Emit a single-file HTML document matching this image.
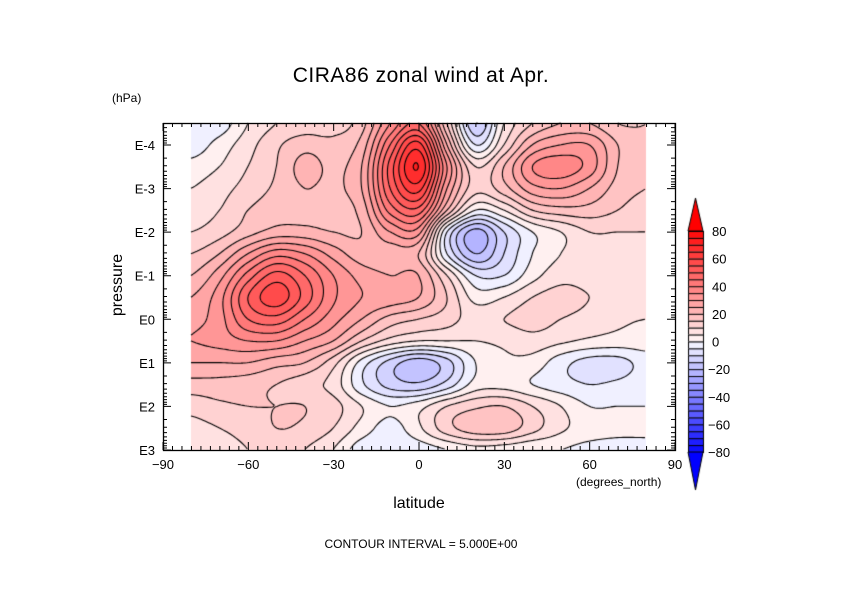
<!DOCTYPE html>
<html><head><meta charset="utf-8"><style>
body{margin:0;background:#fff;}
#wrap{position:relative;width:842px;height:595px;overflow:hidden;background:#fff;font-family:"Liberation Sans",sans-serif;color:#000;}
.t{position:absolute;white-space:nowrap;}
canvas,svg{position:absolute;left:0;top:0;}
</style></head><body>
<div id="wrap">
<canvas id="cv" width="842" height="595"></canvas>
<svg id="ax" width="842" height="595"></svg>
<div class="t" style="left:0;width:842px;text-align:center;top:64px;font-size:21px;letter-spacing:0.5px">CIRA86 zonal wind at Apr.</div>
<div class="t" style="left:112px;top:91px;font-size:12px">(hPa)</div>
<div class="t" style="left:83px;top:276px;font-size:16px;transform:rotate(-90deg);transform-origin:center;width:70px;text-align:center">pressure</div>
<div class="t" style="left:369px;top:495px;width:100px;text-align:center;font-size:16px">latitude</div>
<div class="t" style="left:576px;top:475px;font-size:12px">(degrees_north)</div>
<div class="t" style="left:0;width:842px;text-align:center;top:537px;font-size:12px">CONTOUR INTERVAL = 5.000E+00</div>
</div>
<script>
const lats=[-80,-70,-60,-50,-40,-30,-20,-10,0,10,20,30,40,50,60,70,80];
const logP=[-4.5,-4,-3.5,-3,-2.5,-2,-1.5,-1,-0.5,0,0.5,1,1.5,2,2.5,3];
const wind=[
[-3,-3,5,10,12,12,18,35,45,15,-15,5,15,20,20,15,15],
[-3,2,8,14,18,17,22,45,62,25,-5,10,25,30,30,20,15],
[2,5,10,15,22,19,25,52,70,35,10,20,35,38,33,20,15],
[5,8,12,16,20,19,25,50,62,30,12,18,28,30,25,18,15],
[7,10,15,18,18,18,22,42,48,20,0,5,15,18,18,15,12],
[10,13,18,22,22,20,20,30,32,-5,-22,-10,0,5,10,10,10],
[15,20,30,38,35,28,22,22,20,-5,-20,-10,0,5,8,8,8],
[20,28,42,52,45,35,28,25,25,10,-5,-5,3,8,8,8,8],
[25,33,50,58,48,36,30,28,25,15,3,5,10,12,10,8,8],
[28,33,45,48,40,32,25,18,15,12,8,10,12,10,8,6,5],
[30,32,35,35,30,25,15,8,5,5,5,6,8,6,4,3,3],
[25,25,25,22,20,12,-2,-12,-18,-12,0,4,3,-3,-7,-7,-3],
[18,18,17,15,12,8,-4,-12,-14,-8,2,3,0,-3,-5,-4,-2],
[12,14,15,15,15,12,5,0,3,10,14,15,10,5,0,0,0],
[8,10,12,15,14,10,3,-2,4,13,18,18,12,6,3,2,2],
[5,8,10,12,10,5,-3,-5,-3,0,3,2,0,0,-2,-3,-3]];
const xTicks=[-90,-60,-30,0,30,60,90];
const yTicks=[-4,-3,-2,-1,0,1,2,3];
const cbTicks=[80,60,40,20,0,-20,-40,-60,-80];

const X0=163,X1=675,Y0=123,Y1=450;
const xs=lat=>X0+(lat+90)/180*(X1-X0);
const ys=lp=>145+(lp+4)*43.57;
function col(v){
  let b=Math.floor(v/5)*5; if(b>=80)b=80; if(b<-85)b=-85;
  if(v>=0){const g=Math.round(255*(1-(b+5)/85));return [255,Math.max(0,g),Math.max(0,g)];}
  const g=Math.round(255*(1-(-b)/85));return [Math.max(0,g),Math.max(0,g),255];
}
function cr(p0,p1,p2,p3,t){return 0.5*((2*p1)+(-p0+p2)*t+(2*p0-5*p1+4*p2-p3)*t*t+(-p0+3*p1-3*p2+p3)*t*t*t);}
const R=wind.length,C=lats.length;
function g(i,j){i=Math.max(0,Math.min(R-1,i));j=Math.max(0,Math.min(C-1,j));return wind[i][j];}
function val(fi,fj){
  const i=Math.floor(fi),j=Math.floor(fj),ti=fi-i,tj=fj-j;const r=[];
  for(let k=-1;k<=2;k++)r.push(cr(g(i+k,j-1),g(i+k,j),g(i+k,j+1),g(i+k,j+2),tj));
  return cr(r[0],r[1],r[2],r[3],ti);
}
const cv=document.getElementById('cv'),ctx=cv.getContext('2d');
const dx0=xs(lats[0]),dx1=xs(lats[C-1]),dy0=ys(logP[0]),dy1=ys(logP[R-1]);
const W=Math.round(dx1-dx0),H=Math.round(dy1-dy0);
const S=2,gw=Math.floor(W/S)+1,gh=Math.floor(H/S)+1,F=[];
for(let a=0;a<gh;a++){F.push([]);for(let b=0;b<gw;b++){const fi=Math.min(R-1,a*S/(dy1-dy0)*(R-1)),fj=Math.min(C-1,b*S/(dx1-dx0)*(C-1));F[a].push(val(fi,fj));}}
const img=ctx.createImageData(W,H);
for(let y=0;y<H;y++)for(let x=0;x<W;x++){
  const fi=y/(dy1-dy0)*(R-1),fj=x/(dx1-dx0)*(C-1);const c=col(val(fi,fj));const k=(y*W+x)*4;
  img.data[k]=c[0];img.data[k+1]=c[1];img.data[k+2]=c[2];img.data[k+3]=255;}
ctx.putImageData(img,Math.round(dx0),Math.round(dy0));
ctx.strokeStyle='#000';ctx.lineWidth=1.1;ctx.beginPath();
const ox=Math.round(dx0),oy=Math.round(dy0);
for(let lev=-40;lev<=80;lev+=5){
  for(let a=0;a<gh-1;a++)for(let b=0;b<gw-1;b++){
    const v=[F[a][b],F[a][b+1],F[a+1][b+1],F[a+1][b]];
    const P=[[b,a],[b+1,a],[b+1,a+1],[b,a+1]];const pts=[];
    for(let e=0;e<4;e++){const v1=v[e],v2=v[(e+1)%4];
      if((v1<lev)!==(v2<lev)){const t=(lev-v1)/(v2-v1);const p1=P[e],p2=P[(e+1)%4];
        pts.push([ox+(p1[0]+t*(p2[0]-p1[0]))*S,oy+(p1[1]+t*(p2[1]-p1[1]))*S]);}}
    for(let q=0;q+1<pts.length;q+=2){ctx.moveTo(pts[q][0],pts[q][1]);ctx.lineTo(pts[q+1][0],pts[q+1][1]);}
  }}
ctx.stroke();
ctx.lineWidth=1;
// colorbar
const CBX=688,CBW=15,CBT=231,CBB=452,seg=(CBB-CBT)/32;
for(let k=0;k<32;k++){const v=75-k*5+2.5;const c=col(v);ctx.fillStyle=`rgb(${c})`;ctx.fillRect(CBX,CBT+k*seg,CBW,seg);ctx.strokeRect(CBX+0.5,CBT+k*seg+0.5,CBW,seg);}
ctx.fillStyle='rgb(255,0,0)';ctx.beginPath();ctx.moveTo(CBX,CBT);ctx.lineTo(CBX+CBW/2,198);ctx.lineTo(CBX+CBW,CBT);ctx.closePath();ctx.fill();ctx.stroke();
ctx.fillStyle='rgb(0,0,255)';ctx.beginPath();ctx.moveTo(CBX,CBB);ctx.lineTo(CBX+CBW/2,490);ctx.lineTo(CBX+CBW,CBB);ctx.closePath();ctx.fill();ctx.stroke();

const NS='http://www.w3.org/2000/svg',ax=document.getElementById('ax');
function el(t,at){const e=document.createElementNS(NS,t);for(const k in at)e.setAttribute(k,at[k]);ax.appendChild(e);return e;}
const fr=el('rect',{x:X0+0.5,y:Y0+0.5,width:X1-X0,height:Y1-Y0,fill:'none',stroke:'#000','stroke-width':1.3});


let d='';
for(let lat=-90;lat<=90;lat+=10/3){const x=xs(lat),maj=Math.abs(lat/30-Math.round(lat/30))<1e-6,L=maj?8:4;d+=`M${x} ${Y1}v${-L}M${x} ${Y0}v${L}`;}
for(let dec=-5;dec<=3;dec++)for(let m=1;m<10;m++){const lp=dec+Math.log10(m);const y=ys(lp);if(y<Y0||y>Y1)continue;const L=m===1?8:4;d+=`M${X0} ${y}h${L}M${X1} ${y}h${-L}`;}
const tk=el('path',{d:d,stroke:'#000','stroke-width':1,fill:'none'});


xTicks.forEach(v=>{const t=el('text',{x:xs(v),y:469,'text-anchor':'middle','font-size':13,'font-family':'Liberation Sans, sans-serif'});t.textContent=(v<0?'\u2212':'')+Math.abs(v);

});
yTicks.forEach(v=>{const t=el('text',{x:155,y:ys(v)+5,'text-anchor':'end','font-size':13,'font-family':'Liberation Sans, sans-serif'});t.textContent='E'+v;

});
cbTicks.forEach((v,k)=>{const t=el('text',{x:v<0?708:712,y:CBT+(80-v)/5*seg+5,'font-size':13,'font-family':'Liberation Sans, sans-serif'});t.textContent=(v<0?'\u2212':'')+Math.abs(v);

});
</script>
</body></html>
